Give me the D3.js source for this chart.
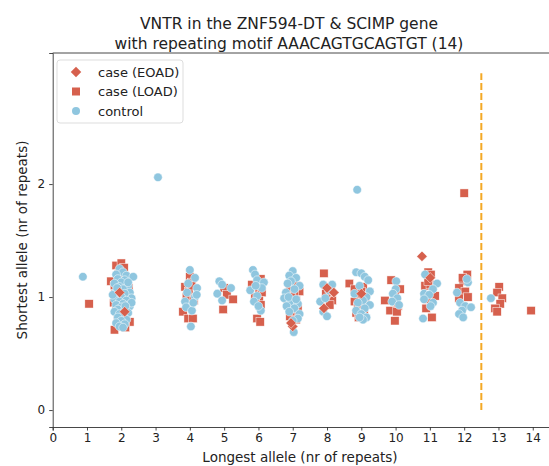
<!DOCTYPE html>
<html>
<head>
<meta charset="utf-8">
<script src="https://cdn.jsdelivr.net/npm/d3@7"></script>
<style>
  body { margin: 0; background: #fff; }
  svg text { font-family: "DejaVu Sans", sans-serif; fill: #222; }
</style>
</head>
<body>
<div id="chart"></div>
<script>
(function () {
  // --- data: [longest allele (jittered), shortest allele (jittered)]
  const xTicks = d3.range(0, 15);
  const yTicks = [0, 1, 2];
  const cutoff = 12.5;

  const loadPoints = [
    [1.06, 0.94],
    [1.85, 1.28], [2.00, 1.30], [1.70, 1.14], [2.08, 1.26], [1.92, 1.21], [2.15, 1.17], [1.80, 1.10],
    [2.05, 1.11], [1.95, 1.06], [2.20, 1.05], [1.82, 1.03], [2.10, 1.00], [1.90, 0.99], [2.00, 0.97],
    [1.78, 0.95], [2.18, 0.94], [1.95, 0.92], [2.05, 0.90], [1.85, 0.88], [2.12, 0.85], [1.90, 0.83],
    [2.02, 0.81], [2.25, 0.78], [1.88, 0.76], [2.05, 0.74], [1.80, 0.71], [2.12, 0.73], [1.98, 1.02],
    [2.22, 1.08], [1.92, 0.78],
    [4.00, 1.18], [4.06, 1.13], [3.86, 1.09], [3.97, 1.05], [4.00, 0.99], [3.80, 0.87], [3.95, 0.81],
    [4.09, 0.81], [4.05, 1.10], [3.90, 1.00], [4.12, 0.97],
    [5.00, 1.08], [5.08, 1.02], [5.26, 0.98], [4.97, 0.89],
    [6.07, 1.16], [5.81, 1.11], [6.02, 1.08], [6.10, 1.04], [6.02, 0.97], [6.07, 0.93], [5.96, 0.81],
    [6.05, 0.78], [5.90, 1.00],
    [7.00, 1.16], [7.12, 1.10], [6.92, 1.06], [7.20, 1.05], [7.05, 1.03], [6.95, 1.00], [6.85, 0.98],
    [7.10, 0.97], [6.90, 0.93], [7.15, 0.91], [6.98, 0.88], [7.05, 0.85], [6.92, 0.83], [7.10, 0.80],
    [7.91, 1.21], [8.00, 1.00], [8.15, 0.97], [7.97, 1.03], [8.08, 0.93],
    [8.65, 1.12], [9.05, 1.09], [8.80, 1.07], [9.00, 1.05], [8.85, 1.01], [9.10, 1.00], [8.95, 0.98],
    [8.80, 0.96], [9.00, 0.94], [8.90, 0.91], [9.08, 0.89], [8.85, 0.86], [9.00, 0.84], [8.92, 0.82],
    [9.12, 0.95],
    [9.87, 1.15], [10.13, 1.07], [9.98, 1.02], [9.69, 0.97], [10.07, 0.92], [9.84, 0.88], [10.04, 0.87],
    [9.98, 0.79],
    [10.95, 1.22], [11.03, 1.20], [10.86, 1.10], [11.01, 1.11], [11.15, 1.01], [10.92, 0.98],
    [10.89, 0.90], [11.06, 0.82], [10.95, 1.14],
    [12.09, 1.20], [11.97, 1.14], [11.85, 1.08], [12.03, 1.05], [11.85, 0.99], [12.11, 1.00],
    [11.95, 1.17], [12.00, 1.92],
    [13.02, 1.09], [12.96, 1.04], [13.11, 0.99], [13.05, 0.94], [12.90, 0.90], [12.96, 0.87],
    [13.95, 0.88]
  ];

  const controlPoints = [
    [0.88, 1.18],
    [1.95, 1.25], [2.05, 1.22], [1.85, 1.20], [2.15, 1.19], [2.35, 1.18], [1.90, 1.16], [2.10, 1.15],
    [2.00, 1.13], [1.80, 1.12], [2.20, 1.10], [1.95, 1.09], [2.05, 1.07], [1.85, 1.05], [2.25, 1.04],
    [2.10, 1.03], [1.90, 1.01], [2.00, 1.00], [2.30, 0.99], [1.80, 0.98], [2.15, 0.97], [1.95, 0.96],
    [2.05, 0.94], [1.85, 0.93], [2.25, 0.92], [2.00, 0.91], [1.90, 0.89], [2.10, 0.88], [1.80, 0.87],
    [2.20, 0.86], [1.95, 0.85], [2.05, 0.83], [1.90, 0.82], [2.15, 0.80], [2.00, 0.79], [1.85, 0.77],
    [2.10, 0.76], [1.95, 0.74], [2.05, 0.73], [2.30, 0.95], [1.75, 1.02], [2.20, 1.13], [1.88, 1.08],
    [2.12, 0.92],
    [3.07, 2.06],
    [4.00, 1.24], [4.15, 1.17], [4.21, 1.08], [3.92, 1.04], [4.15, 1.00], [3.86, 0.96], [3.89, 0.91],
    [4.06, 0.88], [4.03, 0.74], [4.10, 0.95], [3.95, 1.12], [4.20, 1.02],
    [4.86, 1.14], [4.94, 1.11], [5.20, 1.08], [4.80, 1.03], [4.94, 0.97],
    [5.84, 1.24], [5.90, 1.20], [5.96, 1.15], [6.16, 1.13], [5.76, 1.06], [5.96, 1.01], [5.87, 0.96],
    [6.07, 0.88], [6.10, 1.08], [5.92, 1.10], [6.00, 0.92],
    [7.00, 1.23], [6.90, 1.19], [7.10, 1.17], [6.95, 1.14], [6.85, 1.12], [7.20, 1.10], [7.05, 1.07],
    [6.80, 1.04], [6.75, 0.99], [6.95, 0.96], [7.15, 0.94], [6.82, 0.92], [7.05, 0.90], [6.90, 0.87],
    [7.20, 0.85], [7.15, 0.81], [7.00, 0.79], [7.03, 0.69], [6.88, 1.00], [7.10, 0.98],
    [7.89, 1.11], [8.15, 1.11], [7.80, 0.96], [7.89, 0.87], [8.00, 0.83], [8.05, 1.06], [7.95, 0.99],
    [8.85, 1.22], [9.00, 1.21], [9.10, 1.18], [9.20, 1.15], [8.95, 1.10], [9.25, 1.05], [8.80, 1.03],
    [9.15, 1.00], [9.05, 0.97], [8.90, 0.95], [9.25, 0.93], [9.10, 0.90], [8.85, 0.88], [9.00, 0.85],
    [9.15, 0.82], [9.05, 0.80], [8.95, 0.82], [8.88, 1.95],
    [10.02, 1.14], [10.00, 1.07], [9.92, 1.03], [10.05, 0.99], [9.90, 0.96], [10.10, 0.93],
    [10.86, 1.20], [11.21, 1.12], [11.09, 1.07], [10.83, 1.03], [10.98, 1.02], [10.83, 0.98],
    [11.09, 0.95], [10.80, 0.81], [11.02, 0.92],
    [12.11, 1.13], [11.79, 1.04], [11.88, 0.95], [12.03, 0.92], [12.20, 0.91], [11.94, 0.88],
    [11.85, 0.85], [11.97, 0.82], [12.08, 1.16],
    [12.78, 0.99]
  ];

  const eoadPoints = [
    [2.10, 0.87], [1.95, 1.04],
    [7.00, 0.74], [6.95, 0.77],
    [8.00, 1.08], [8.20, 1.04], [7.91, 0.90],
    [9.00, 1.03],
    [10.77, 1.36], [11.01, 1.17]
  ];

  const red = "#d6604d";
  const blue = "#8fc6df";
  const orange = "#f4a925";

  const width = 549, height = 466;
  const margin = { left: 52.7, right: 0, top: 53, bottom: 39 };

  const svg = d3.select("#chart").append("svg")
    .attr("width", width)
    .attr("height", height);

  const x = d3.scaleLinear().domain([0, 14.5]).range([margin.left, 549.9]);
  const y = d3.scaleLinear().domain([-0.15, 3.16]).range([height - margin.bottom, margin.top]);

  // axes
  svg.append("g")
    .attr("transform", `translate(0,${height - margin.bottom})`)
    .call(d3.axisBottom(x).tickValues(xTicks).tickFormat(d3.format("d")).tickSize(3.5).tickPadding(3))
    .call(g => g.selectAll("text").attr("font-size", 12).attr("fill", "#222"));

  svg.append("g")
    .attr("transform", `translate(${margin.left},0)`)
    .call(d3.axisLeft(y).tickValues(yTicks).tickFormat(d3.format("d")).tickSize(3.5).tickPadding(4))
    .call(g => g.selectAll("text").attr("font-size", 12).attr("fill", "#222"));

  svg.selectAll(".domain").attr("stroke", "#333").attr("stroke-width", 0.9);
  svg.selectAll(".tick line").attr("stroke", "#333").attr("stroke-width", 0.9);

  // top spine
  svg.append("line")
    .attr("x1", margin.left).attr("x2", width)
    .attr("y1", margin.top).attr("y2", margin.top)
    .attr("stroke", "#333").attr("stroke-width", 0.9);

  // cutoff line
  svg.append("line")
    .attr("x1", x(cutoff)).attr("x2", x(cutoff))
    .attr("y1", y(0)).attr("y2", y(2.98))
    .attr("stroke", orange)
    .attr("stroke-width", 2)
    .attr("stroke-dasharray", "7,3");

  const plot = svg.append("g");

  // LOAD squares
  const sq = 8.4;
  plot.append("g").selectAll("rect")
    .data(loadPoints)
    .join("rect")
      .attr("x", d => x(d[0]) - sq / 2)
      .attr("y", d => y(d[1]) - sq / 2)
      .attr("width", sq).attr("height", sq)
      .attr("fill", red)
      .attr("stroke", "#fff").attr("stroke-width", 0.5);

  // controls
  plot.append("g").selectAll("circle")
    .data(controlPoints)
    .join("circle")
      .attr("cx", d => x(d[0]))
      .attr("cy", d => y(d[1]))
      .attr("r", 4.3)
      .attr("fill", blue)
      .attr("stroke", "#fff").attr("stroke-width", 0.5);

  // EOAD diamonds
  const diamond = d3.symbol().type(d3.symbolDiamond2).size(70);
  plot.append("g").selectAll("path")
    .data(eoadPoints)
    .join("path")
      .attr("d", diamond)
      .attr("transform", d => `translate(${x(d[0])},${y(d[1])})`)
      .attr("fill", red)
      .attr("stroke", "#fff").attr("stroke-width", 0.5);

  // title
  const title = svg.append("text")
    .attr("text-anchor", "middle")
    .attr("font-size", 15.5);
  title.append("tspan").attr("x", 289).attr("y", 28.5).text("VNTR in the ZNF594-DT & SCIMP gene");
  title.append("tspan").attr("x", 289).attr("y", 48.5).text("with repeating motif AAACAGTGCAGTGT (14)");

  // axis labels
  svg.append("text")
    .attr("x", 300).attr("y", 461.5)
    .attr("text-anchor", "middle")
    .attr("font-size", 13.5)
    .text("Longest allele (nr of repeats)");

  svg.append("text")
    .attr("transform", `translate(27,${(margin.top + height - margin.bottom) / 2}) rotate(-90)`)
    .attr("text-anchor", "middle")
    .attr("font-size", 13.5)
    .text("Shortest allele (nr of repeats)");

  // legend
  const legend = svg.append("g");
  legend.append("rect")
    .attr("x", 57).attr("y", 60).attr("width", 126).attr("height", 63)
    .attr("rx", 3)
    .attr("fill", "#fff").attr("fill-opacity", 0.8)
    .attr("stroke", "#ddd");

  const items = [
    { label: "case (EOAD)", shape: "diamond" },
    { label: "case (LOAD)", shape: "square" },
    { label: "control", shape: "circle" }
  ];
  items.forEach((it, i) => {
    const cy = 72 + i * 19.5;
    if (it.shape === "diamond") {
      legend.append("path").attr("d", diamond)
        .attr("transform", `translate(76,${cy})`).attr("fill", red);
    } else if (it.shape === "square") {
      legend.append("rect").attr("x", 76 - 4).attr("y", cy - 4)
        .attr("width", 8).attr("height", 8).attr("fill", red);
    } else {
      legend.append("circle").attr("cx", 76).attr("cy", cy).attr("r", 4).attr("fill", blue);
    }
    legend.append("text")
      .attr("x", 98).attr("y", cy + 4.5)
      .attr("font-size", 13)
      .text(it.label);
  });
})();
</script>
</body>
</html>
